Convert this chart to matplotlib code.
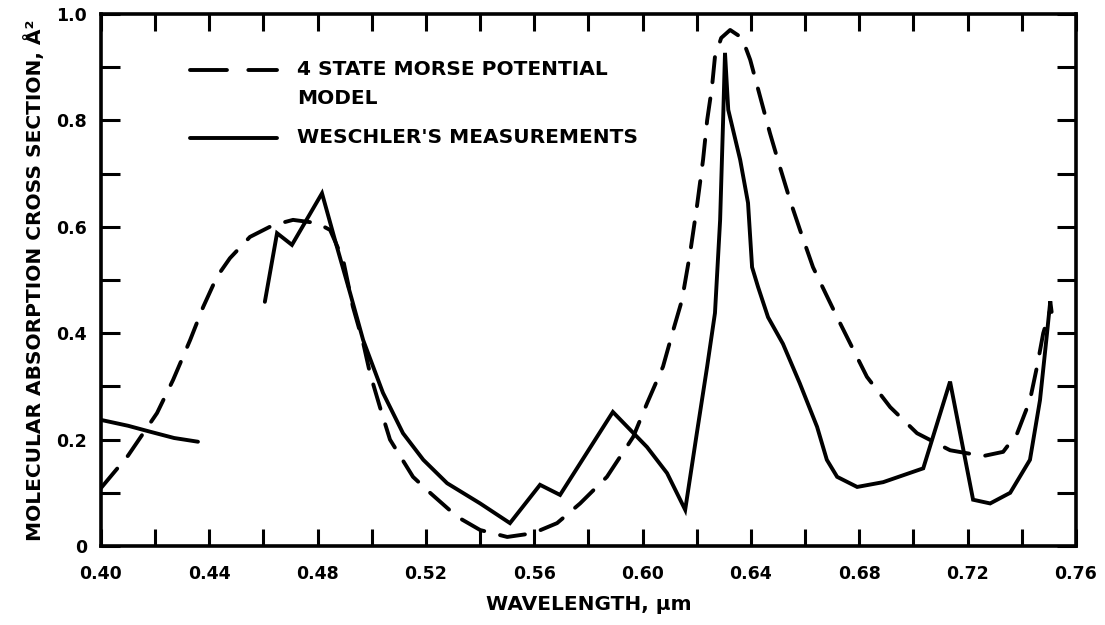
import matplotlib
matplotlib.use("Agg")
import matplotlib.pyplot as plt
from matplotlib.lines import Line2D

# ---- data -------------------------------------------------------------
model_x = [0.400, 0.4100, 0.4207, 0.4266, 0.4329, 0.4377, 0.4428, 0.4476, 0.455,
           0.4635, 0.4709, 0.4798, 0.4846, 0.4894, 0.493, 0.4968, 0.4993, 0.503,
           0.5067, 0.5152, 0.5215, 0.5315, 0.540, 0.550, 0.5595, 0.5684, 0.5769,
           0.5868, 0.5965, 0.6016, 0.6075, 0.6113, 0.6145, 0.6175, 0.620, 0.6223,
           0.6238, 0.6256, 0.6267, 0.6290, 0.6323, 0.6367, 0.6397, 0.6434, 0.647,
           0.6507, 0.6544, 0.6581, 0.6629, 0.668, 0.6718, 0.6766, 0.6828, 0.6914,
           0.7013, 0.7135, 0.7257, 0.7331, 0.7383, 0.743, 0.7456, 0.7479, 0.7505]
model_y = [0.109, 0.170, 0.250, 0.312, 0.387, 0.449, 0.506, 0.541, 0.581,
           0.603, 0.613, 0.607, 0.594, 0.538, 0.450, 0.382, 0.325, 0.261,
           0.200, 0.130, 0.100, 0.055, 0.030, 0.017, 0.024, 0.043, 0.080,
           0.130, 0.205, 0.268, 0.337, 0.406, 0.462, 0.550, 0.637, 0.726,
           0.800, 0.863, 0.920, 0.955, 0.970, 0.955, 0.914, 0.844, 0.776,
           0.712, 0.650, 0.594, 0.524, 0.470, 0.430, 0.381, 0.318, 0.261,
           0.212, 0.180, 0.169, 0.177, 0.212, 0.274, 0.337, 0.400, 0.444]

meas1_x = [0.400, 0.410, 0.418, 0.427, 0.4358]
meas1_y = [0.237, 0.226, 0.215, 0.203, 0.196]

meas2_x = [0.4605, 0.465, 0.4705, 0.4816, 0.4864, 0.492, 0.4968, 0.5041, 0.5115,
           0.519, 0.5278, 0.540, 0.551, 0.5621, 0.5695, 0.589, 0.6016, 0.609,
           0.6157, 0.620, 0.6238, 0.6267, 0.6286, 0.6297, 0.6304, 0.6316, 0.636,
           0.6389, 0.6404, 0.6426, 0.6463, 0.6518, 0.658, 0.6644, 0.668, 0.6718,
           0.6792, 0.6888, 0.7036, 0.7135, 0.722, 0.7283, 0.7357, 0.743, 0.7467,
           0.7493, 0.7505, 0.751]
meas2_y = [0.459, 0.588, 0.566, 0.663, 0.575, 0.475, 0.387, 0.288, 0.212,
           0.162, 0.118, 0.080, 0.043, 0.115, 0.096, 0.252, 0.186, 0.137,
           0.068, 0.212, 0.337, 0.438, 0.613, 0.800, 0.927, 0.820, 0.726,
           0.645, 0.524, 0.487, 0.430, 0.380, 0.306, 0.224, 0.162, 0.130,
           0.111, 0.120, 0.146, 0.309, 0.087, 0.080, 0.100, 0.162, 0.274,
           0.400, 0.460, 0.440]

x_ticks = [0.40, 0.44, 0.48, 0.52, 0.56, 0.60, 0.64, 0.68, 0.72, 0.76]
x_tick_labels = ["0.40", "0.44", "0.48", "0.52", "0.56", "0.60", "0.64", "0.68", "0.72", "0.76"]
y_ticks = [0, 0.2, 0.4, 0.6, 0.8, 1.0]
y_tick_labels = ["0", "0.2", "0.4", "0.6", "0.8", "1.0"]

legend_labels = ["4 STATE MORSE POTENTIAL\nMODEL", "WESCHLER'S MEASUREMENTS"]
xlabel = "WAVELENGTH, µm"
ylabel = "MOLECULAR ABSORPTION CROSS SECTION, Å²"

# ---- figure -----------------------------------------------------------
plt.rcParams['font.family'] = ['DejaVu Sans']
plt.rcParams['font.weight'] = 'bold'

fig = plt.figure(figsize=(11.05, 6.25), dpi=100)
ax = fig.add_axes([101 / 1105, 79 / 625, 975 / 1105, 532 / 625])

lw = 2.8
ax.plot(model_x, model_y, color='black', lw=lw, linestyle=(0, (6.5, 4.2)),
        dash_capstyle='round', solid_capstyle='round')
ax.plot(meas1_x, meas1_y, color='black', lw=lw, solid_capstyle='round',
        solid_joinstyle='miter')
ax.plot(meas2_x, meas2_y, color='black', lw=lw, solid_capstyle='round',
        solid_joinstyle='miter')

ax.set_xlim(0.40, 0.76)
ax.set_ylim(0, 1.0)
ax.set_xticks(x_ticks)
ax.set_xticklabels(x_tick_labels)
ax.set_xticks([0.42, 0.46, 0.50, 0.54, 0.58, 0.62, 0.66, 0.70, 0.74], minor=True)
ax.set_yticks(y_ticks)
ax.set_yticklabels(y_tick_labels)
ax.set_yticks([0.1, 0.3, 0.5, 0.7, 0.9], minor=True)

for sp in ax.spines.values():
    sp.set_linewidth(2.6)

ax.tick_params(axis='x', which='both', direction='in', length=12, width=2.2,
               top=True, bottom=True, labelsize=12.5, pad=14)
ax.tick_params(axis='y', which='both', direction='in', length=14, width=2.2,
               left=True, right=True, labelsize=12.5, pad=10)

ax.set_xlabel(xlabel, fontsize=14.5, fontweight='bold', labelpad=8)
ax.set_ylabel(ylabel, fontsize=14.5, fontweight='bold', labelpad=8)

# legend drawn in axes coordinates
tr = ax.transAxes
ax.add_line(Line2D([0.0913, 0.1805], [0.895, 0.895], transform=tr, color='black',
                   lw=lw, linestyle=(0, (9.5, 5.5)), dash_capstyle='round'))
ax.add_line(Line2D([0.0913, 0.1805], [0.767, 0.767], transform=tr, color='black',
                   lw=lw, solid_capstyle='round'))
first_lines = legend_labels[0].split("\n")
ax.text(0.201, 0.895, first_lines[0], transform=tr, fontsize=14.5,
        fontweight='bold', va='center', ha='left')
ax.text(0.201, 0.842, first_lines[1], transform=tr, fontsize=14.5,
        fontweight='bold', va='center', ha='left')
ax.text(0.201, 0.767, legend_labels[1], transform=tr, fontsize=14.5,
        fontweight='bold', va='center', ha='left')

fig.savefig("out.png", dpi=100)
